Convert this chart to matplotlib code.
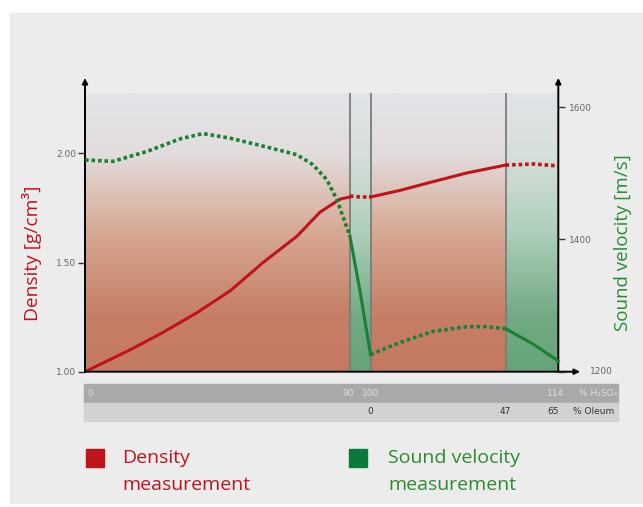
import numpy as np
import matplotlib.pyplot as plt
from matplotlib.patches import Rectangle
from matplotlib import transforms

# density curve [g/cm3]
dens_acid_x = [0, 15.3, 26.5, 38.0, 49.3, 60.5, 72.0, 79.8, 86.6, 90]  # % H2SO4
dens_acid_y = [1.00, 1.10, 1.18, 1.27, 1.37, 1.50, 1.62, 1.73, 1.79, 1.80]
dens_gap_x = [90, 95, 100]  # % H2SO4
dens_gap_y = [1.804, 1.80, 1.80]
dens_oleum_x = [0, 10.2, 21.7, 33.5, 47]  # % Oleum
dens_oleum_y = [1.80, 1.83, 1.87, 1.91, 1.946]
dens_oleum2_x = [47, 56.7, 65]  # % Oleum
dens_oleum2_y = [1.946, 1.951, 1.942]

# sound velocity curve [m/s]
vel_acid_x = [0, 9.5, 21.1, 32.3, 40.1, 49.3, 60.5, 72.0, 77.4, 82.2, 85.6, 87.6, 90]
vel_acid_y = [1520, 1518, 1533, 1552, 1560, 1553, 1541, 1528, 1513, 1490, 1460, 1435, 1405]
vel_gap_x = [90, 95, 100]
vel_gap_y = [1405, 1320, 1226]
vel_oleum_x = [0, 10.2, 21.7, 33.5, 40.3, 47]
vel_oleum_y = [1226, 1244, 1261, 1268, 1268, 1265]
vel_oleum2_x = [47, 56.7, 65]
vel_oleum2_y = [1265, 1241, 1216]

# scale labels
h2so4_ticks = [0, 90, 100]
h2so4_labels = ["0", "90", "100"]
oleum_ticks = [0, 47, 65]
oleum_labels = ["0", "47", "65"]
dens_ticks = [1.00, 1.50, 2.00]
vel_ticks = [1200, 1400, 1600]

RED = "#c0141c"
GREEN = "#1b8037"
TXT_GREEN = "#2a8c2f"


# the x axis is piecewise: % H2SO4 up to 100, then % Oleum
def pos_h(h):
    return np.interp(h, [0, 90, 100], [0, 90, 97.0])


def pos_o(o):
    return np.interp(o, [0, 47, 65], [97.0, 142.9, 160.8])


def gradient(stops, colors, n=256):
    t = np.linspace(0, 1, n)
    rgb = np.array([[int(c[i:i + 2], 16) / 255 for i in (1, 3, 5)] for c in colors])
    img = np.stack([np.interp(t, stops, rgb[:, k]) for k in range(3)], axis=1)
    return img[:, None, :]


W, H = 643, 507
fig = plt.figure(figsize=(W / 100, H / 100), dpi=100)
fig.patch.set_facecolor("white")
fig.patches.append(Rectangle((10 / W, (H - 503) / H), 633 / W, 490 / H,
                             transform=fig.transFigure, color="#ececec", zorder=-10))

x0, x1, ytop, ybot = 85, 558.3, 93, 371.7
ax = fig.add_axes([x0 / W, (H - ybot) / H, (x1 - x0) / W, (ybot - ytop) / H])
ax2 = ax.twinx()

xmax = pos_o(65)
ylo, yhi = 1.0, 1.0 + (ybot - ytop) / 218.4
ax.set_xlim(0, xmax)
ax.set_ylim(ylo, yhi)
ax2.set_ylim(1200, 1200 + (ybot - ytop) * 200 / 132.3)

# background gradients
stops = [0, 0.22, 0.5, 0.8, 1]
red_bg = gradient(stops, ["#e4e4e9", "#e2dcdc", "#d7a893", "#c67e65", "#c47a61"])
green_bg = gradient(stops, ["#e2e4e8", "#d6dfdb", "#aecfb9", "#72aa84", "#66a478"])
ax.imshow(red_bg, extent=[0, xmax, ylo, yhi], aspect="auto", origin="upper", zorder=0)
for a, b in [(pos_h(90), pos_h(100)), (pos_o(47), pos_o(65))]:
    ax.imshow(green_bg, extent=[a, b, ylo, yhi], aspect="auto", origin="upper", zorder=0)
ax.set_xlim(0, xmax)
ax.set_ylim(ylo, yhi)

for xv in [pos_h(90), pos_h(100), pos_o(47)]:
    ax.axvline(xv, color="#7c7c7c", lw=1.3, zorder=1)

dot = (0, (1, 0.8))
ax.plot(pos_h(dens_acid_x), dens_acid_y, color=RED, lw=2.2, zorder=3)
ax.plot(pos_h(dens_gap_x), dens_gap_y, color=RED, lw=2.6, ls=dot, zorder=3)
ax.plot(pos_o(dens_oleum_x), dens_oleum_y, color=RED, lw=2.2, zorder=3)
ax.plot(pos_o(dens_oleum2_x), dens_oleum2_y, color=RED, lw=2.6, ls=dot, zorder=3)

ax2.plot(pos_h(vel_acid_x), vel_acid_y, color=GREEN, lw=2.6, ls=dot)
ax2.plot(pos_h(vel_gap_x), vel_gap_y, color=GREEN, lw=2.2)
ax2.plot(pos_o(vel_oleum_x), vel_oleum_y, color=GREEN, lw=2.6, ls=dot)
ax2.plot(pos_o(vel_oleum2_x), vel_oleum2_y, color=GREEN, lw=2.2, clip_on=False)

# axes, ticks
for a in (ax, ax2):
    for s in a.spines.values():
        s.set_visible(False)
ax.set_xticks([])
ax.set_yticks(dens_ticks)
ax.set_yticklabels([f"{v:.2f}" for v in dens_ticks])
ax2.set_yticks(vel_ticks)
# the 1200 label sits past the x arrow
ax2.set_yticklabels([""] + [str(v) for v in vel_ticks[1:]])
ax.tick_params(axis="y", length=5, width=1, color="#333333", labelsize=6.5,
               labelcolor="#666666", pad=1.5)
ax2.tick_params(axis="y", length=5, width=1, color="#333333", labelsize=6.5,
                labelcolor="#666666", pad=3)
ax2.annotate(str(vel_ticks[0]), xy=(1, vel_ticks[0]),
             xycoords=("axes fraction", "data"), xytext=(23, 0),
             textcoords="offset points", ha="left", va="center",
             fontsize=6.5, color="#666666", annotation_clip=False)

arrow = dict(arrowstyle="-|>", color="black", lw=1.4, mutation_scale=8,
             shrinkA=0, shrinkB=0)
top = 1 + (ytop - 78) / (ybot - ytop)
ax.annotate("", xy=(0, top), xytext=(0, 0), xycoords="axes fraction", arrowprops=arrow)
ax.annotate("", xy=(1, top), xytext=(1, 0), xycoords="axes fraction", arrowprops=arrow)
ax.annotate("", xy=((580 - x0) / (x1 - x0), 0), xytext=(0, 0), xycoords="axes fraction",
            arrowprops=arrow)

# axis titles
fig.text(32 / W, 1 - 253 / H, "Density [g/cm³]", rotation=90, color=RED,
         fontsize=13.8, family="Open Sans", ha="center", va="center")
fig.text(623 / W, 1 - 243 / H, "Sound velocity [m/s]", rotation=90, color=TXT_GREEN,
         fontsize=13.5, family="Open Sans", ha="center", va="center")

# scale bar under the chart
fig.patches.append(Rectangle((84 / W, (H - 403) / H), 534 / W, 19 / H,
                             transform=fig.transFigure, color="#a9a9ab", zorder=-5))
fig.patches.append(Rectangle((84 / W, (H - 421) / H), 534 / W, 18 / H,
                             transform=fig.transFigure, color="#d2d2d4", zorder=-5))
blend = transforms.blended_transform_factory(ax.transData, fig.transFigure)
row1, row2 = 1 - 393.5 / H, 1 - 412 / H
offs1 = [5, -2, 0]
for v, lab, dx in zip(h2so4_ticks, h2so4_labels, offs1):
    ax.annotate(lab, xy=(pos_h(v), row1), xycoords=blend, xytext=(dx * 0.72, 0),
                textcoords="offset points", ha="center", va="center",
                fontsize=6.5, color="#dedede", annotation_clip=False)
ax.annotate("114", xy=(pos_o(65), row1), xycoords=blend, xytext=(-3 * 0.72, 0),
            textcoords="offset points", ha="center", va="center",
            fontsize=6.5, color="#dedede", annotation_clip=False)
fig.text(598 / W, row1, "% H₂SO₄", ha="center", va="center", fontsize=6.5, color="#dedede")
offs2 = [0, 0, -5]
for v, lab, dx in zip(oleum_ticks, oleum_labels, offs2):
    ax.annotate(lab, xy=(pos_o(v), row2), xycoords=blend, xytext=(dx * 0.72, 0),
                textcoords="offset points", ha="center", va="center",
                fontsize=6.5, color="#333333", annotation_clip=False)
fig.text(594 / W, row2, "% Oleum", ha="center", va="center", fontsize=6.5, color="#333333")

# legend
fig.patches.append(Rectangle((86 / W, (H - 467) / H), 18 / W, 18 / H,
                             transform=fig.transFigure, color=RED))
fig.patches.append(Rectangle((349 / W, (H - 467) / H), 18 / W, 18 / H,
                             transform=fig.transFigure, color="#0a7a38"))
fig.text(122 / W, 1 - 458 / H, "Density", color=RED, fontsize=14,
         family="Open Sans", va="center")
fig.text(122 / W, 1 - 485 / H, "measurement", color=RED, fontsize=14,
         family="Open Sans", va="center")
fig.text(388 / W, 1 - 458 / H, "Sound velocity", color=TXT_GREEN, fontsize=14,
         family="Open Sans", va="center")
fig.text(388 / W, 1 - 485 / H, "measurement", color=TXT_GREEN, fontsize=14,
         family="Open Sans", va="center")

fig.savefig("out.png", dpi=100)
